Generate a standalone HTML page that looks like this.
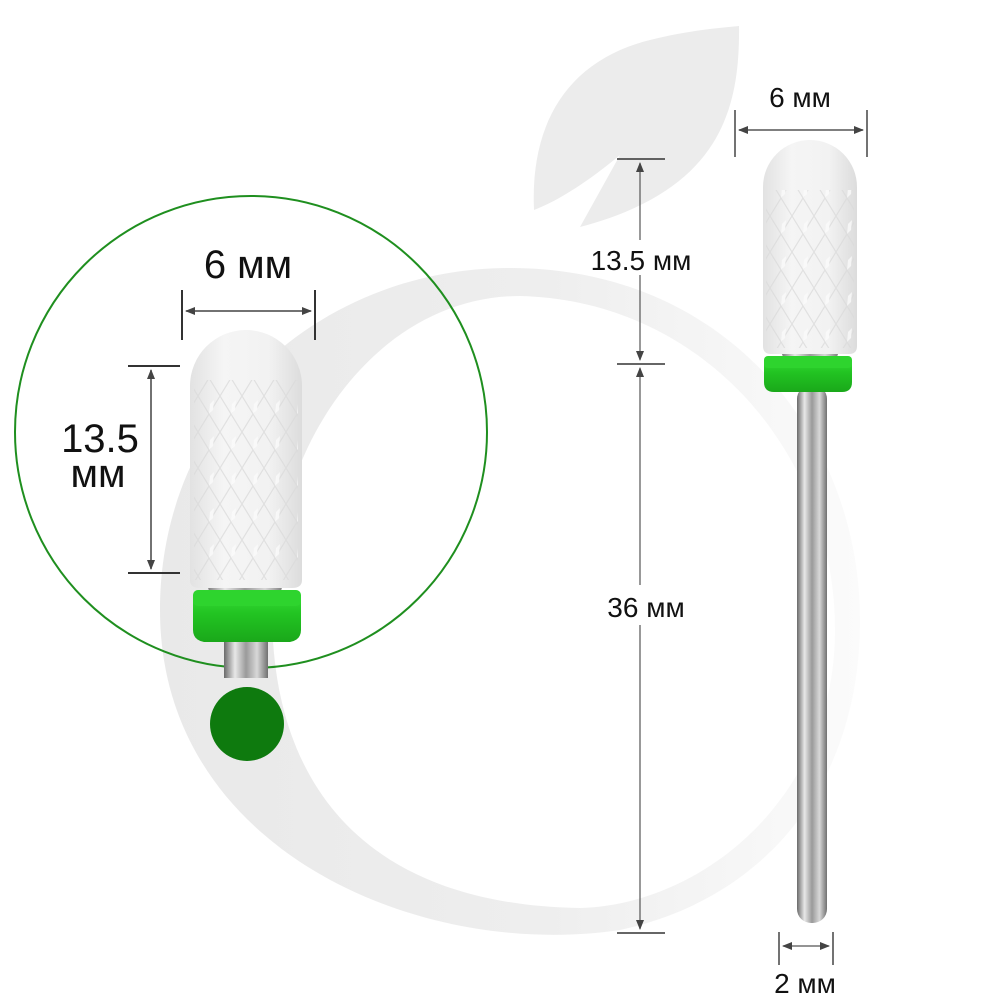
<!DOCTYPE html>
<html><head><meta charset="utf-8"><style>
html,body{margin:0;padding:0;background:#fff}
svg{display:block}
text{font-family:"Liberation Sans","DejaVu Sans",sans-serif;fill:#111}
</style></head><body>
<svg width="1000" height="1000" viewBox="0 0 1000 1000" xmlns="http://www.w3.org/2000/svg">
<defs>
<linearGradient id="wm" x1="0" y1="0" x2="1" y2="0">
<stop offset="0" stop-color="#e9e9e9"/><stop offset="0.55" stop-color="#eeeeee"/><stop offset="1" stop-color="#fbfbfb"/>
</linearGradient>
<linearGradient id="cer" x1="0" y1="0" x2="1" y2="0">
<stop offset="0" stop-color="#e2e2e2"/><stop offset="0.3" stop-color="#f5f5f5"/><stop offset="0.7" stop-color="#f2f2f2"/><stop offset="1" stop-color="#dcdcdc"/>
</linearGradient>
<linearGradient id="met" x1="0" y1="0" x2="1" y2="0">
<stop offset="0" stop-color="#6a6a6a"/><stop offset="0.25" stop-color="#e8e8e8"/><stop offset="0.5" stop-color="#9a9a9a"/><stop offset="0.75" stop-color="#d8d8d8"/><stop offset="1" stop-color="#707070"/>
</linearGradient>
<linearGradient id="grn" x1="0" y1="0" x2="0" y2="1">
<stop offset="0" stop-color="#3ce03c"/><stop offset="0.45" stop-color="#22c422"/><stop offset="1" stop-color="#1aa81a"/>
</linearGradient>
<marker id="ar" markerWidth="10" markerHeight="8" refX="9" refY="4" orient="auto-start-reverse" markerUnits="userSpaceOnUse">
<path d="M0,0 L10,4 L0,8 Z" fill="#444"/>
</marker>
<pattern id="dia" width="22" height="36" patternUnits="userSpaceOnUse">
<path d="M0,0 L11,18 L22,0 M0,36 L11,18 L22,36" stroke="#dadada" stroke-width="1.2" fill="none"/>
<path d="M12,8 L16,4 L15,14 L11,18 Z" fill="#fbfbfb"/>
</pattern>
</defs>

<!-- watermark -->
<path fill="url(#wm)" fill-rule="evenodd" d="M510,268 C730,268 860,440 860,620 C860,790 760,900 620,930 C420,960 160,850 160,610 C160,410 320,268 510,268 Z
M520,296 C700,300 835,450 835,630 C835,800 700,905 580,908 C380,905 272,800 272,610 C272,440 380,296 520,296 Z"/>
<path fill="#ececec" d="M534,210 C530,120 570,60 650,40 C690,30 720,28 739,26 C740,110 720,190 580,227 L620,155 C590,180 560,200 534,210 Z"/>

<!-- LEFT detail circle -->
<circle cx="251" cy="432" r="236" fill="none" stroke="#1f8f1f" stroke-width="2"/>
<rect x="224" y="636" width="44" height="42" fill="url(#met)"/>
<path d="M205,578 L285,578 L280,594 L210,594 Z" fill="url(#met)"/>
<path d="M193,598 Q193,590 200,590 L294,590 Q301,590 301,598 L301,630 Q301,640 290,642 L204,642 Q193,640 193,630 Z" fill="url(#grn)"/>
<rect x="193" y="590" width="108" height="16" fill="#2ed42e" rx="5"/>
<path d="M190,580 L190,386 A56,56 0 0 1 302,386 L302,580 Q302,588 292,588 L200,588 Q190,588 190,580 Z" fill="url(#cer)"/>
<path d="M194,380 L298,380 L298,580 L194,580 Z" fill="url(#dia)" opacity="0.75"/>
<circle cx="247" cy="724" r="37" fill="#0e7a0e"/>

<text x="248" y="278" font-size="40" text-anchor="middle">6 мм</text>
<line x1="182" y1="290" x2="182" y2="340" stroke="#333" stroke-width="2"/>
<line x1="315" y1="290" x2="315" y2="340" stroke="#333" stroke-width="2"/>
<line x1="186" y1="311" x2="311" y2="311" stroke="#444" stroke-width="1.5" marker-start="url(#ar)" marker-end="url(#ar)"/>
<line x1="128" y1="366" x2="180" y2="366" stroke="#333" stroke-width="2"/>
<line x1="128" y1="573" x2="180" y2="573" stroke="#333" stroke-width="2"/>
<line x1="151" y1="370" x2="151" y2="569" stroke="#444" stroke-width="1.5" marker-start="url(#ar)" marker-end="url(#ar)"/>
<text x="100" y="452" font-size="40" text-anchor="middle">13.5</text>
<text x="98" y="487" font-size="40" text-anchor="middle">мм</text>

<!-- RIGHT bit -->
<rect x="797" y="385" width="30" height="538" rx="14" fill="url(#met)"/>
<path d="M780,348 L840,348 L836,360 L784,360 Z" fill="url(#met)"/>
<path d="M764,364 Q764,356 770,356 L846,356 Q852,356 852,364 L852,382 Q852,392 842,392 L774,392 Q764,392 764,382 Z" fill="url(#grn)"/>
<rect x="764" y="356" width="88" height="12" fill="#2ed42e" rx="4"/>
<path d="M763,346 L763,187 A47,47 0 0 1 857,187 L857,346 Q857,354 849,354 L771,354 Q763,354 763,346 Z" fill="url(#cer)"/>
<path d="M766,190 L854,190 L854,348 L766,348 Z" fill="url(#dia)" opacity="0.75"/>

<text x="800" y="107" font-size="28" text-anchor="middle">6 мм</text>
<line x1="735" y1="110" x2="735" y2="157" stroke="#444" stroke-width="1.5"/>
<line x1="867" y1="110" x2="867" y2="157" stroke="#444" stroke-width="1.5"/>
<line x1="739" y1="130" x2="863" y2="130" stroke="#555" stroke-width="1.5" marker-start="url(#ar)" marker-end="url(#ar)"/>

<line x1="617" y1="159" x2="665" y2="159" stroke="#333" stroke-width="1.5"/>
<line x1="617" y1="364" x2="665" y2="364" stroke="#333" stroke-width="1.5"/>
<line x1="617" y1="933" x2="665" y2="933" stroke="#333" stroke-width="1.5"/>
<line x1="640" y1="163" x2="640" y2="240" stroke="#555" stroke-width="1.2" marker-start="url(#ar)"/>
<line x1="640" y1="275" x2="640" y2="360" stroke="#555" stroke-width="1.2" marker-end="url(#ar)"/>
<line x1="640" y1="368" x2="640" y2="585" stroke="#555" stroke-width="1.2" marker-start="url(#ar)"/>
<line x1="640" y1="625" x2="640" y2="929" stroke="#555" stroke-width="1.2" marker-end="url(#ar)"/>
<text x="641" y="270" font-size="28" text-anchor="middle">13.5 мм</text>
<text x="646" y="617" font-size="28" text-anchor="middle">36 мм</text>

<line x1="779" y1="932" x2="779" y2="965" stroke="#444" stroke-width="1.5"/>
<line x1="833" y1="932" x2="833" y2="965" stroke="#444" stroke-width="1.5"/>
<line x1="783" y1="946" x2="829" y2="946" stroke="#555" stroke-width="1.2" marker-start="url(#ar)" marker-end="url(#ar)"/>
<text x="805" y="993" font-size="28" text-anchor="middle">2 мм</text>
</svg>
</body></html>
